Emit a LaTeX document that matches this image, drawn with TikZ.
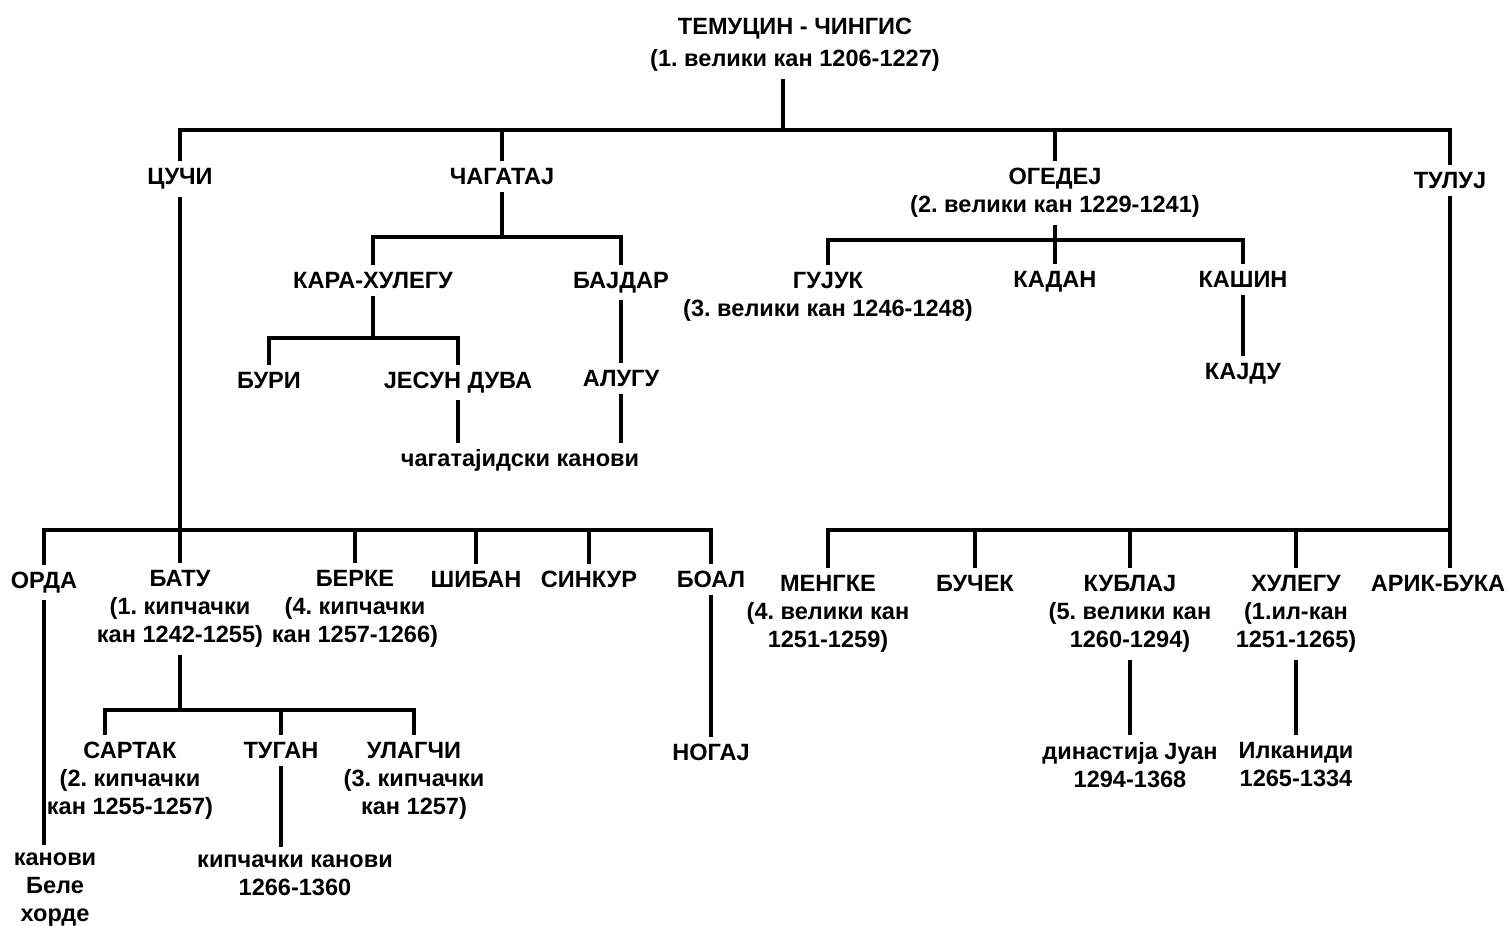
\documentclass[tikz,border=0pt]{standalone}
\usepackage{fontspec}
\setmainfont{Liberation Sans}
\frenchspacing

\begin{document}
\begin{tikzpicture}[
    x=0.02cm, y=-0.02cm,
    khan/.style={anchor=north, align=center, inner sep=4pt, font=\bfseries\fontsize{13.4}{16}\selectfont},
    branch/.style={line width=2.3pt, line join=miter}
]
\useasboundingbox (0,0) rectangle (1509,926);

% Generation 1 and 2
\node[khan] (temujin) at (795,11) {ТЕМУЦИН - ЧИНГИС\\[2pt](1. велики кан 1206-1227)};
\node[khan] (cuci) at (180,161) {ЦУЧИ};
\node[khan] (cagataj) at (502,160.6) {ЧАГАТАЈ};
\node[khan] (ogedej) at (1055,160.6) {ОГЕДЕЈ\\(2. велики кан 1229-1241)};
\node[khan] (tuluj) at (1450,164.6) {ТУЛУЈ};

% Chagatai line
\node[khan] (karahulegu) at (373,264.6) {КАРА-ХУЛЕГУ};
\node[khan] (bajdar) at (621,264.6) {БАЈДАР};
\node[khan] (buri) at (269,364.6) {БУРИ};
\node[khan] (jesun) at (458,364.6) {ЈЕСУН ДУВА};
\node[khan] (alugu) at (621,362.6) {АЛУГУ};
\node[khan] (cagkanovi) at (520,442.5) {чагатајидски канови};

% Ogedei line
\node[khan] (gujuk) at (828,264.6) {ГУЈУК\\(3. велики кан 1246-1248)};
\node[khan] (kadan) at (1055,263.6) {КАДАН};
\node[khan] (kasin) at (1243,263.6) {КАШИН};
\node[khan] (kajdu) at (1243,355.6) {КАЈДУ};

% Jochi line
\node[khan] (orda) at (44,564.6) {ОРДА};
\node[khan] (batu) at (180,562.6) {БАТУ\\(1. кипчачки\\кан 1242-1255)};
\node[khan] (berke) at (355,562.6) {БЕРКЕ\\(4. кипчачки\\кан 1257-1266)};
\node[khan] (siban) at (476,563.6) {ШИБАН};
\node[khan] (sinkur) at (589,563.6) {СИНКУР};
\node[khan] (boal) at (711,563.6) {БОАЛ};
\node[khan] (nogaj) at (711,736.6) {НОГАЈ};
\node[khan] (belehorde) at (55,845) {канови\\Беле\\хорде};

% Batu line
\node[khan] (sartak) at (130,734.6) {САРТАК\\(2. кипчачки\\кан 1255-1257)};
\node[khan] (tugan) at (281,734.6) {ТУГАН};
\node[khan] (ulagci) at (414,734.6) {УЛАГЧИ\\(3. кипчачки\\кан 1257)};
\node[khan] (kipkanovi) at (295,847) {кипчачки канови\\1266-1360};

% Tolui line
\node[khan] (mengke) at (828,567.6) {МЕНГКЕ\\(4. велики кан\\1251-1259)};
\node[khan] (bucek) at (975,567.6) {БУЧЕК};
\node[khan] (kublaj) at (1130,567.6) {КУБЛАЈ\\(5. велики кан\\1260-1294)};
\node[khan] (hulegu) at (1296,567.6) {ХУЛЕГУ\\(1.ил-кан\\1251-1265)};
\node[khan] (arikbuka) at (1438,567.6) {АРИК-БУКА};
\node[khan] (juan) at (1130,735) {династија Јуан\\1294-1368};
\node[khan] (ilkanidi) at (1296,735) {Илканиди\\1265-1334};

% Bars
\coordinate (bar1) at (783,130);
\coordinate (bar2) at (502,237);
\coordinate (bar3) at (373,338);
\coordinate (bar4) at (1055,240);
\coordinate (bar5) at (180,530);
\coordinate (bar6) at (180,710);
\coordinate (bar6l) at (105,710);
\coordinate (bar7) at (1450,530);

% Temujin -> sons
\draw[branch] (temujin.south -| bar1) -- (bar1);
\draw[branch] (cuci.north) |- (bar1) -| (tuluj.north);
\draw[branch] (cagataj.north) -- (cagataj.north |- bar1);
\draw[branch] (ogedej.north) -- (ogedej.north |- bar1);

% Chagatai
\draw[branch] (cagataj.south) -- (bar2);
\draw[branch] (karahulegu.north) |- (bar2) -| (bajdar.north);
\draw[branch] (karahulegu.south) -- (bar3);
\draw[branch] (buri.north) |- (bar3) -| (jesun.north);
\draw[branch] (jesun.south) -- (jesun.south |- cagkanovi.north);
\draw[branch] (bajdar.south) -- (alugu.north);
\draw[branch] (alugu.south) -- (alugu.south |- cagkanovi.north);

% Ogedei
\draw[branch] (ogedej.south) -- (bar4);
\draw[branch] (gujuk.north) |- (bar4) -| (kasin.north);
\draw[branch] (kadan.north) -- (kadan.north |- bar4);
\draw[branch] (kasin.south) -- (kajdu.north);

% Jochi
\draw[branch] (cuci.south) -- (batu.north);
\draw[branch] (orda.north) |- (bar5) -| (boal.north);
\draw[branch] (berke.north) -- (berke.north |- bar5);
\draw[branch] (siban.north) -- (siban.north |- bar5);
\draw[branch] (sinkur.north) -- (sinkur.north |- bar5);
\draw[branch] (boal.south) -- (nogaj.north);
\draw[branch] (orda.south) -- (orda.south |- belehorde.north);

% Batu
\draw[branch] (batu.south) -- (bar6);
\draw[branch] (sartak.north -| bar6l) -- (bar6l) -| (ulagci.north);
\draw[branch] (tugan.north) -- (tugan.north |- bar6);
\draw[branch] (tugan.south) -- (tugan.south |- kipkanovi.north);

% Tolui
\draw[branch] (tuluj.south) -- (tuluj.south |- arikbuka.north);
\draw[branch] (mengke.north) |- (bar7);
\draw[branch] (bucek.north) -- (bucek.north |- bar7);
\draw[branch] (kublaj.north) -- (kublaj.north |- bar7);
\draw[branch] (hulegu.north) -- (hulegu.north |- bar7);
\draw[branch] (kublaj.south) -- (kublaj.south |- juan.north);
\draw[branch] (hulegu.south) -- (hulegu.south |- ilkanidi.north);

\end{tikzpicture}
\end{document}
